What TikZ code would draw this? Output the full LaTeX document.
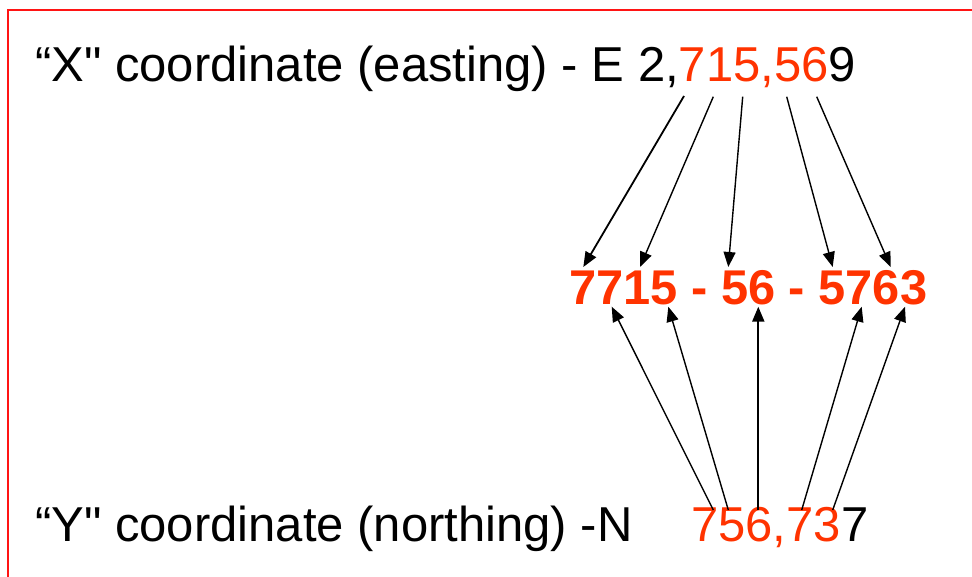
\documentclass[tikz,border=0pt]{standalone}
\usepackage{fontspec}
\setmainfont{Liberation Sans}[Ligatures=TeXOff]
\usetikzlibrary{arrows.meta}
\definecolor{numred}{RGB}{255,51,0}
\definecolor{framered}{RGB}{255,20,20}
\tikzset{
  lbl/.style={anchor=base west, inner sep=0pt, font=\fontsize{49}{55}\selectfont},
  code/.style={anchor=base west, inner sep=0pt, text=numred, font=\fontsize{48.8}{54}\selectfont\bfseries},
  arr/.style={draw=black, line width=1.4pt, -{Triangle[length=15pt,width=12pt]}},
  arrthick/.style={arr, line width=2.1pt},
  frame/.style={draw=framered, line width=1.6pt}
}
\begin{document}
\begin{tikzpicture}[x=1pt,y=-1pt]
\useasboundingbox (0,0) rectangle (972,577);
\draw[frame] (8,580) -- (8,10) -- (975,10);

\node[lbl] (xline) at (35,81.7) {“X" coordinate (easting) - E 2,\textcolor{numred}{715,56}9};
\node[code] (grid) at (569,305) {7715 - 56 - 5763};
\node[lbl] (yline) at (35,541.7) {“Y" coordinate (northing) -N};
\node[lbl, text=numred] (ynum) at (691,541.7) {756,73\textcolor{black}{7}};

% top arrow starts and tips
\coordinate (ts1) at (684,96);
\coordinate (ts2) at (713.3,96.7);
\coordinate (ts3) at (742.7,96.7);
\coordinate (ts4) at (786.7,96.7);
\coordinate (ts5) at (816.7,96.7);
\coordinate (tt1) at (583.3,267);
\coordinate (tt2) at (640,267);
\coordinate (tt3) at (728.3,267);
\coordinate (tt4) at (832.7,267);
\coordinate (tt5) at (890.7,267);
% bottom arrow starts and tips
\coordinate (bs1) at (713.3,510);
\coordinate (bs2) at (728.3,510);
\coordinate (bs3) at (758.3,510);
\coordinate (bs4) at (801.7,510);
\coordinate (bs5) at (832.7,510);
\coordinate (bt1) at (611.7,306.7);
\coordinate (bt2) at (668.3,306.7);
\coordinate (bt3) at (758.3,306.7);
\coordinate (bt4) at (861.7,306.7);
\coordinate (bt5) at (905,306.7);

\draw[arr, line width=1.8pt] (ts1) -- (tt1);
\draw[arr] (ts2) -- (tt2);
\draw[arr] (ts3) -- (tt3);
\draw[arr] (ts4) -- (tt4);
\draw[arr] (ts5) -- (tt5);
\draw[arr] (bs1) -- (bt1);
\draw[arr] (bs2) -- (bt2);
\draw[arrthick] (bs3) -- (bt3);
\draw[arr] (bs4) -- (bt4);
\draw[arr] (bs5) -- (bt5);
\end{tikzpicture}
\end{document}
